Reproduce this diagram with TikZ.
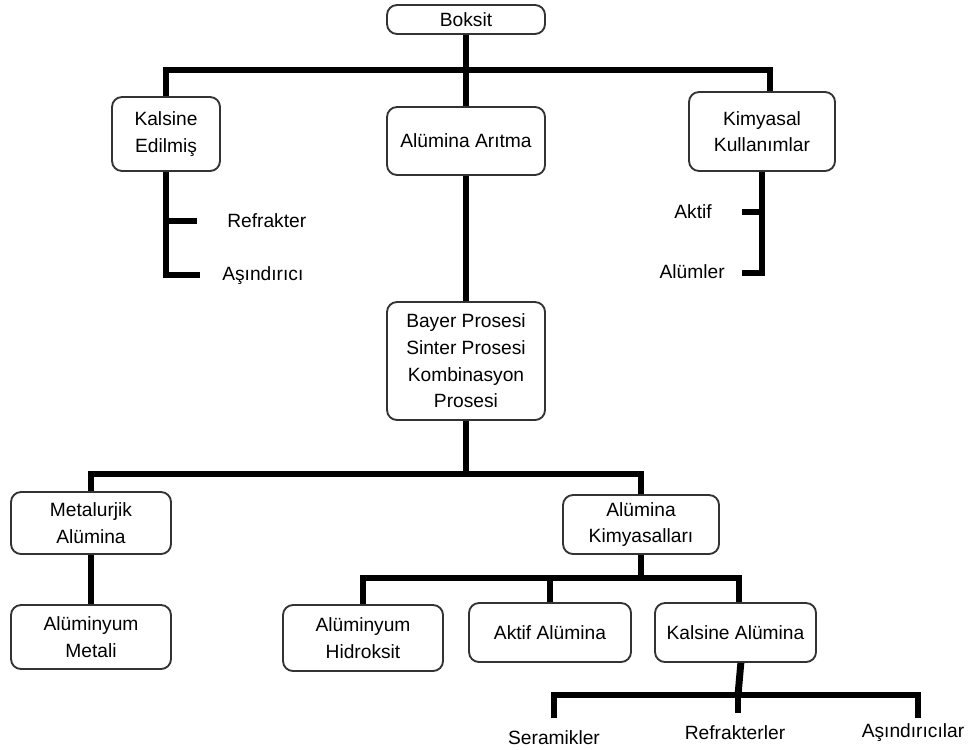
\documentclass[tikz,border=0pt]{standalone}
\usepackage{fontspec}
\setmainfont{Liberation Sans}
\usetikzlibrary{positioning}
\tikzset{
  boxnode/.style={draw=black!80,fill=white,line width=1.4pt,rounded corners=7.5pt,align=center,inner sep=0pt,font=\fontsize{14.4}{20}\selectfont},
  lblnode/.style={inner sep=0pt,font=\fontsize{14.4}{20}\selectfont},
  bar/.style={line width=5.2pt},
  every picture/.style={line join=miter}
}

\begin{document}
\begin{tikzpicture}[x=0.75pt,y=-0.75pt]
  \useasboundingbox (0,0) rectangle (980,749);
  % boxes
  \node[boxnode,minimum width=118.5pt,minimum height=21.75pt] (boksit) at (466,19.5) {Boksit};
  \node[boxnode,minimum width=81pt,minimum height=55.5pt] (kalsine) at (166,134) {Kalsine\\Edilmiş};
  \node[boxnode,minimum width=118.5pt,minimum height=51pt] (aritma) at (466,141) {Alümina Arıtma};
  \node[boxnode,minimum width=109.5pt,minimum height=59.25pt] (kimyasal) at (762,131.5) {Kimyasal\\Kullanımlar};
  \node[boxnode,minimum width=118.5pt,minimum height=88.5pt] (bayer) at (466,361) {Bayer Prosesi\\Sinter Prosesi\\Kombinasyon\\Prosesi};
  \node[boxnode,minimum width=120pt,minimum height=46.5pt] (metal) at (91,523) {Metalurjik\\Alümina};
  \node[boxnode,minimum width=117pt,minimum height=44.25pt] (kimya) at (641,524.5) {Alümina\\Kimyasalları};
  \node[boxnode,minimum width=120pt,minimum height=48pt] (almetal) at (91,637) {Alüminyum\\Metali};
  \node[boxnode,minimum width=120pt,minimum height=49.5pt] (hidroksit) at (363,638) {Alüminyum\\Hidroksit};
  \node[boxnode,minimum width=121.5pt,minimum height=44.25pt] (aktif) at (550,632.5) {Aktif Alümina};
  \node[boxnode,minimum width=120.75pt,minimum height=44.25pt] (kalsal) at (735.5,632.5) {Kalsine Alümina};

  % plain labels
  \node[lblnode,anchor=west] (refr) at (227,221) {Refrakter};
  \node[lblnode,anchor=west] (asin) at (222,276) {Aşındırıcı};
  \node[lblnode,anchor=east] (akt) at (712,212) {Aktif};
  \node[lblnode,anchor=east] (alum) at (725,272) {Alümler};
  \node[lblnode] (seram) at (554,738) {Seramikler};
  \node[lblnode] (refrler) at (735,733) {Refrakterler};
  \node[lblnode] (asinlar) at (913,733) {Aşındırıcılar};

  % joints
  \coordinate (top) at (466,70);
  \coordinate (k1) at (197,221);
  \coordinate (k2) at (200,275);
  \coordinate (m1) at (742,212);
  \coordinate (m2) at (742,273);
  \coordinate (mid) at (466,474);
  \coordinate (low) at (641,578);
  \coordinate (sub) at (738,695);
  \coordinate (sL) at (554,718);
  \coordinate (sM) at (738,713);
  \coordinate (sR) at (918,718);

  % connectors
  \draw[bar] (boksit) -- (top);
  \draw[bar] (kalsine.north) |- (top) -| ([xshift=6pt]kimyasal.north);
  \draw[bar] (top) -- (aritma);
  \draw[bar] (kalsine.south) |- (k2);
  \draw[bar] (kalsine.south |- k1) -- (k1);
  \draw[bar] (kimyasal.south) |- (m2);
  \draw[bar] (kimyasal.south |- m1) -- (m1);
  \draw[bar] (aritma) -- (bayer);
  \draw[bar] (bayer) -- (mid);
  \draw[bar] (metal.north) |- (mid) -| (kimya.north);
  \draw[bar] (metal) -- (almetal);
  \draw[bar] (kimya) -- (low);
  \draw[bar] (hidroksit.north) |- (low) -| ([xshift=2.6pt]kalsal.north);
  \draw[bar] (aktif.north) -- (aktif.north |- low);
  \draw[bar] ([xshift=4pt]kalsal.south) -- (sub);
  \draw[bar] (sL) |- (sub) -| (sR);
  \draw[bar] (sub) -- (sM);
\end{tikzpicture}
\end{document}
